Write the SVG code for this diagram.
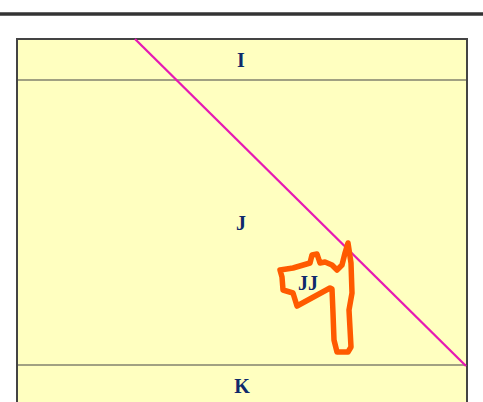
<svg xmlns="http://www.w3.org/2000/svg" width="483" height="402" viewBox="0 0 483 402">
<style>
.lbl{font-family:"Liberation Serif",serif;font-weight:bold;font-size:20px;fill:#0e2a6b;text-anchor:middle}
.div{stroke:#444;stroke-width:1.2;fill:none}
</style>
<rect width="483" height="402" fill="#fff"/>
<line x1="0" y1="14" x2="483" y2="14" stroke="#333" stroke-width="3.5"/>
<g id="box">
<rect x="17" y="39" width="450" height="370" fill="#ffffc0" stroke="#444" stroke-width="2"/>
</g>
<g id="I"><text class="lbl" x="241" y="67">I</text></g>
<g id="J"><text class="lbl" x="241" y="230">J</text></g>
<g id="K"><text class="lbl" x="242" y="393">K</text></g>
<g id="connectors">
<line class="div" x1="17" y1="80" x2="467" y2="80"/>
<line class="div" x1="17" y1="365" x2="467" y2="365"/>
<line x1="135" y1="39" x2="466" y2="366" stroke="#e619b3" stroke-width="2.3"/>
</g>
<g id="JJ">
<path d="M348,243 L351,263 L352,293 L349,310 L351,347 L348,352 L337,352 L334,340 L333,313 L332,289 L330,288 L297,306 L293,293 L283,290 L282,277 L280,270 L293,268 L310,263 L312,255 L317,254 L320,263 L325,262 L332,265 L337,270 L342,265 L345,253 Z" fill="none" stroke="#ff5a00" stroke-width="5.5" stroke-linejoin="round"/>
<text class="lbl" x="308" y="290">JJ</text>
</g>
</svg>
